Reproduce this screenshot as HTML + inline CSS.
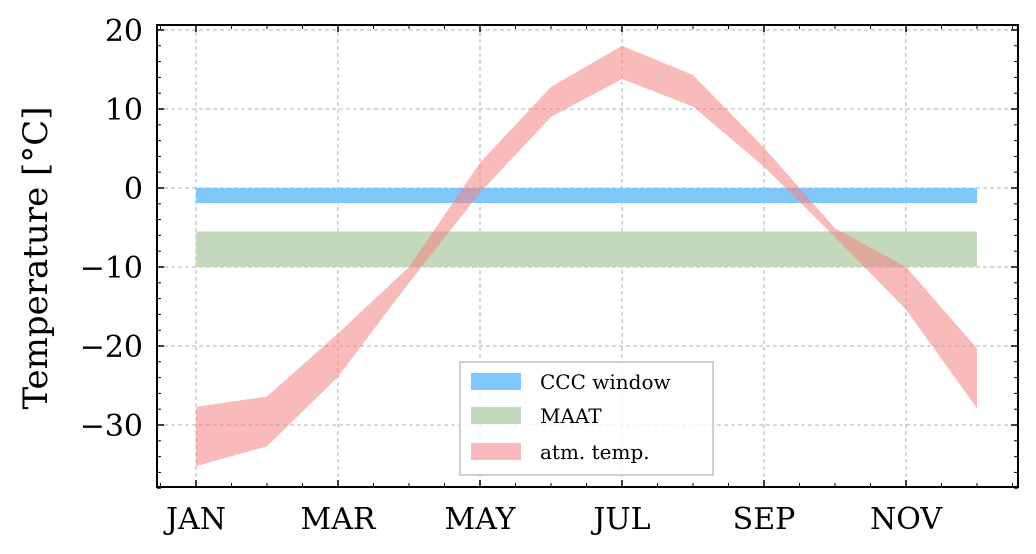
<!DOCTYPE html>
<html><head><meta charset="utf-8"><style>
html,body{margin:0;padding:0;background:#fff;}
svg{display:block;font-family:"DejaVu Serif","Liberation Serif",serif;}
</style></head><body>
<svg id="chart" width="1036" height="554" viewBox="0 0 1036 554">
<g id="grid"></g>
<g id="bands"></g>
<g id="axes"></g>
<text transform="translate(47,258) rotate(-90)" text-anchor="middle" font-size="34" fill="#000">Temperature [°C]</text>
<g>
<rect x="460" y="362" width="253" height="113" fill="#fff" fill-opacity="0.8" stroke="#d0d0d0" stroke-width="2"/>
<g><rect x="471" y="373" width="50" height="17" fill="#80c8fc"/><text x="540" y="389" font-size="20">CCC window</text></g>
<g><rect x="471" y="407" width="50" height="17" fill="#c4d9bb"/><text x="540" y="423" font-size="20">MAAT</text></g>
<g><rect x="471" y="443" width="50" height="17" fill="#f8baba"/><text x="540" y="459" font-size="20">atm. temp.</text></g>
</g>
</svg>
<script>
const months = ["JAN","FEB","MAR","APR","MAY","JUN","JUL","AUG","SEP","OCT","NOV","DEC"];
const atmUpper = [-27.7,-26.4,-18.4,-10,3.2,12.8,18.0,14.3,5.1,-5.1,-10,-20.3];
const atmLower = [-35.2,-32.7,-23.9,-12,-0.6,9.0,13.8,10.3,2.7,-6.2,-15.4,-27.9];
const cccWindow = [0,-1.9];
const maat = [-5.5,-10];
const yTicks = [20,10,0,-10,-20,-30];
const xTickLabels = ["JAN","MAR","MAY","JUL","SEP","NOV"];

const L=157,R=1018,T=25,B=487;
const x = m => 196 + 71*m;
const y = v => 188 - v*7.9;
const NS="http://www.w3.org/2000/svg";
function mk(tag, attrs, parent){const e=document.createElementNS(NS,tag);for(const k in attrs)e.setAttribute(k,attrs[k]);parent.appendChild(e);return e;}
const grid=document.getElementById('grid'), bands=document.getElementById('bands'), axes=document.getElementById('axes');

yTicks.forEach(v=>{const l=mk('line',{x1:L,x2:R,y1:y(v),y2:y(v),stroke:'#b0b0b0','stroke-width':1,'stroke-dasharray':'4,3'},grid);

});
xTickLabels.forEach(lb=>{const m=months.indexOf(lb);const l=mk('line',{x1:x(m),x2:x(m),y1:T,y2:B,stroke:'#b0b0b0','stroke-width':1,'stroke-dasharray':'4,3'},grid);

});

const x0=x(0), x1=x(months.length-1);
const c=mk('rect',{x:x0,y:y(cccWindow[0]),width:x1-x0,height:y(cccWindow[1])-y(cccWindow[0]),fill:'#80c8fc'},bands);


const mt=mk('rect',{x:x0,y:y(maat[0]),width:x1-x0,height:y(maat[1])-y(maat[0]),fill:'#c4d9bb'},bands);


let pts=atmUpper.map((v,i)=>x(i)+','+y(v));
for(let i=atmLower.length-1;i>=0;i--)pts.push(x(i)+','+y(atmLower[i]));
const a=mk('polygon',{points:pts.join(' '),fill:'#f48080','fill-opacity':0.54},bands);



mk('rect',{x:L,y:T,width:R-L,height:B-T,fill:'none',stroke:'#000','stroke-width':2},axes);
for(let v=-38;v<=20;v+=2){const major=v%10===0;const len=major?7:4;
mk('line',{x1:L,x2:L+len,y1:y(v),y2:y(v),stroke:'#000','stroke-width':major?1.5:1},axes);
mk('line',{x1:R,x2:R-len,y1:y(v),y2:y(v),stroke:'#000','stroke-width':major?1.5:1},axes);}
yTicks.forEach(v=>{const t=mk('text',{x:143,y:y(v)+11,'text-anchor':'end','font-size':30},axes);t.textContent=(v<0?'\u2212':'')+Math.abs(v);

});
for(let m=-0.5;m<=11.5;m+=0.5){const major=(m%2===0);const len=major?7:4;
mk('line',{x1:x(m),x2:x(m),y1:B,y2:B-len,stroke:'#000','stroke-width':major?1.5:1},axes);
mk('line',{x1:x(m),x2:x(m),y1:T,y2:T+len,stroke:'#000','stroke-width':major?1.5:1},axes);}
xTickLabels.forEach(lb=>{const t=mk('text',{x:x(months.indexOf(lb)),y:529,'text-anchor':'middle','font-size':30},axes);t.textContent=lb;

});
</script>
</body></html>
